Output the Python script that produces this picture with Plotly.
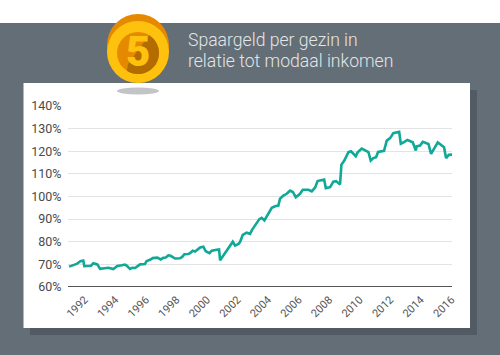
import math
import plotly.graph_objects as go

years = [1990.97,1991.21,1991.47,1991.71,1991.90,1991.97,1992.21,1992.41,1992.56,1992.82,1993.00,1993.26,1993.54,1993.87,
1994.13,1994.42,1994.63,1994.74,1994.96,1995.11,1995.29,1995.62,1995.94,1996.05,1996.27,1996.45,1996.75,1996.97,1997.14,
1997.30,1997.47,1997.62,1997.91,1998.24,1998.39,1998.52,1998.78,1998.89,1999.07,1999.22,1999.39,1999.55,1999.76,1999.92,
2000.16,2000.31,2000.64,2000.79,2000.86,2001.07,2001.23,2001.40,2001.69,2001.84,2002.06,2002.17,2002.34,2002.60,2002.82,
2002.97,2003.26,2003.43,2003.58,2003.76,2004.02,2004.24,2004.46,2004.67,2004.78,2005.00,2005.22,2005.44,2005.62,2005.81,
2006.09,2006.27,2006.64,2006.86,2007.08,2007.24,2007.67,2007.78,2008.06,2008.27,2008.45,2008.71,2008.80,2008.99,2009.26,
2009.43,2009.74,2009.85,2010.13,2010.57,2010.72,2010.89,2011.07,2011.20,2011.59,2011.77,2011.99,2012.20,2012.58,2012.69,
2012.90,2013.12,2013.47,2013.67,2013.73,2013.95,2014.13,2014.50,2014.67,2015.11,2015.52,2015.65,2015.83,2016.04]
values = [69.0,69.7,70.2,71.4,71.7,69.2,69.3,69.4,70.5,70.0,68.0,68.2,68.5,67.9,
69.3,69.6,69.9,69.5,68.0,68.5,68.4,70.0,70.2,71.5,72.0,72.8,73.0,72.2,72.9,
73.0,74.0,73.8,72.6,72.7,73.4,74.5,74.6,75.0,76.0,75.7,76.5,77.5,77.8,75.8,
75.0,76.0,76.5,76.6,71.8,74.0,75.5,77.5,80.0,78.3,79.0,80.0,83.0,84.0,83.5,
85.5,88.0,90.0,90.6,89.4,92.4,95.0,95.7,96.0,99.0,100.4,101.2,102.6,102.0,99.7,
101.2,103.0,103.0,102.3,104.0,106.8,107.5,103.7,104.1,106.6,106.8,105.3,114.1,115.9,119.6,
120.0,117.8,119.4,121.2,119.6,115.9,117.0,117.4,119.7,120.2,124.7,125.8,128.0,128.6,123.3,
124.0,125.0,124.0,120.3,122.2,122.5,124.2,123.2,118.8,123.9,121.8,117.0,118.4,118.5]
tick_years = [1992,1994,1996,1998,2000,2002,2004,2006,2008,2010,2012,2014,2016]
tick_pct = [60,70,80,90,100,110,120,130,140]
title_lines = ["Spaargeld per gezin in", "relatie tot modaal inkomen"]

L, R, T, B = 68, 452, 106, 287
def px(x): return (x - L) / (R - L)
def py(y): return (B - y) / (B - T)

def rect(x0, y0, x1, y1, color):
    return dict(type="rect", xref="paper", yref="paper", x0=px(x0), x1=px(x1), y0=py(y0), y1=py(y1),
                fillcolor=color, line_width=0, layer="below")
def circle(cx, cy, rx, ry, color):
    return dict(type="circle", xref="paper", yref="paper", x0=px(cx-rx), x1=px(cx+rx), y0=py(cy-ry), y1=py(cy+ry),
                fillcolor=color, line_width=0, layer="below")

pts = [(149, 35.3)]
for a in range(-58, 125, 6):
    r = math.radians(a)
    pts.append((138 + 21 * math.cos(r), 53 + 21 * math.sin(r)))
pts.append((128, 64))
wedge = "M " + " L ".join(f"{px(x):.4f},{py(y):.4f}" for x, y in pts) + " Z"

shapes = [
    rect(0, 23, 500, 355, "#646e76"),
    rect(30, 90, 477, 335, "#525b63"),
    rect(23.5, 83, 470, 328, "#ffffff"),
    circle(138, 91, 21, 3.5, "#c2c4c8"),
    circle(138, 45, 31, 31, "#e58a00"),
    circle(138, 52, 31, 31, "#fec10d"),
    circle(138, 53, 21, 21, "#e58a00"),
    dict(type="path", xref="paper", yref="paper", path=wedge, fillcolor="#b26c00", line_width=0, layer="below"),
]

fig = go.Figure(go.Scatter(x=years, y=values, mode="lines", line=dict(color="#10a896", width=2.6), hoverinfo="skip"))
fig.update_layout(
    width=500, height=355, margin=dict(l=L, r=500-R, t=T, b=355-B, autoexpand=False),
    paper_bgcolor="#ffffff", plot_bgcolor="rgba(0,0,0,0)", showlegend=False, shapes=shapes,
    font=dict(family="Roboto", color="#4a4a4a"),
    xaxis=dict(range=[1990.9, 2016.04], tickmode="array", tickvals=tick_years, ticktext=[str(y) for y in tick_years],
               tickangle=-45, tickfont=dict(size=11, color="#555555"), showgrid=False, zeroline=False,
               showline=False, ticks="outside", ticklen=1, tickcolor="rgba(0,0,0,0)"),
    yaxis=dict(range=[60, 140], tickmode="array", tickvals=tick_pct, ticktext=[f"{v}%" for v in tick_pct],
               tickfont=dict(size=12.5, color="#4a4a4a"), gridcolor="#e3e3e3", gridwidth=1.4, zeroline=False,
               ticks="outside", ticklen=3, tickcolor="rgba(0,0,0,0)", showline=False),
    annotations=[
        dict(xref="paper", yref="paper", x=px(186), y=py(40), text=title_lines[0], showarrow=False, xanchor="left",
             yanchor="middle", font=dict(family="Roboto", size=17.6, color="#e3e6e8", weight=300)),
        dict(xref="paper", yref="paper", x=px(186), y=py(61), text=title_lines[1], showarrow=False, xanchor="left",
             yanchor="middle", font=dict(family="Roboto", size=17.6, color="#e3e6e8", weight=300)),
        dict(xref="paper", yref="paper", x=px(138), y=py(51), text="5", showarrow=False, xanchor="center",
             yanchor="middle", font=dict(family="Roboto", size=42, color="#fec10d", weight=900)),
    ],
)
fig.add_shape(type="line", xref="paper", yref="y", x0=0, x1=1, y0=60, y1=60, line=dict(color="#555555", width=1.8))
fig.write_html("out.html", config={"displayModeBar": False},
               post_script="document.body.style.margin='0';document.documentElement.style.overflow='hidden';")
